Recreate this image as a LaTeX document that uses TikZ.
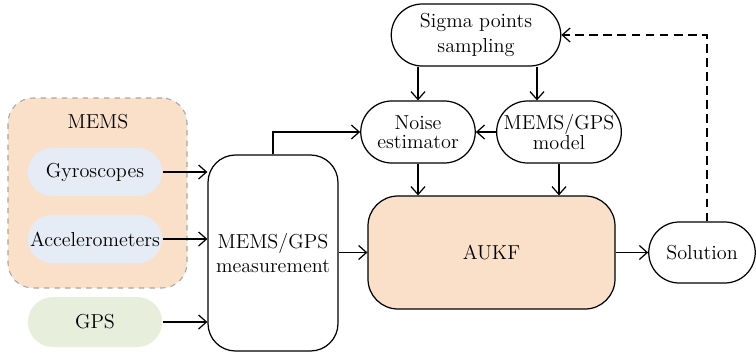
\documentclass[tikz,border=0pt]{standalone}
\usepackage[dvipsnames]{xcolor}
\usepackage{tikz}
\usetikzlibrary{shapes.misc,arrows.meta}

\definecolor{peach}{HTML}{FAE0C9}
\definecolor{paleblue}{HTML}{E5ECF6}
\definecolor{palegreen}{HTML}{E7EEDC}

\begin{document}
\begin{tikzpicture}[
    font=\fontsize{11.5}{14}\selectfont,
    line width=0.7pt,
    pill/.style={rounded rectangle, draw, align=center, inner sep=1pt},
    sensor/.style={rounded rectangle, fill=#1, minimum width=2.92cm, minimum height=0.96cm},
    bigbox/.style={rectangle, draw, align=center},
    flow/.style={-{Straight Barb[length=4.5pt,width=8pt]}}
  ]
        \useasboundingbox (0,0) rectangle (15.12,-7.1);

        % MEMS group
        \node [rectangle, rounded corners=0.5cm, fill=peach, draw=black!35, dashed,
          line width=0.6pt, minimum width=3.58cm, minimum height=3.8cm]
          (memsgroup) at (1.95,-3.86) {};
        \node (memslabel) at (1.96,-2.44) {MEMS};

        \node [sensor=paleblue] (gyro) at (1.90,-3.44) {Gyroscopes};
        \node [sensor=paleblue] (accel) at (1.90,-4.78) {Accelerometers};
        \node [sensor=palegreen, minimum height=1.0cm] (gps) at (1.90,-6.44) {GPS};

        \node [bigbox, rounded corners=0.55cm, minimum width=2.6cm, minimum height=3.92cm]
          (meas) at (5.46,-5.06) {MEMS/GPS\\measurement};

        \node [pill, minimum width=3.46cm, minimum height=1.24cm]
          (sigma) at (9.52,-0.70) {Sigma points\\[0.5pt]sampling};
        \node [pill, minimum width=2.36cm, minimum height=1.24cm]
          (noise) at (8.36,-2.64) {Noise\\[-3pt]estimator};
        \node [pill, minimum width=2.32cm, minimum height=1.24cm]
          (model) at (11.18,-2.64) {MEMS/GPS\\[-3pt]model};

        \node [bigbox, rounded corners=0.6cm, fill=peach, minimum width=4.94cm, minimum height=2.26cm]
          (aukf) at (9.83,-5.05) {AUKF};
        \node [pill, minimum width=2.2cm, minimum height=1.22cm]
          (solution) at (14.04,-5.05) {Solution};

        \draw [flow] (gyro.east) -- (gyro.east -| meas.west);
        \draw [flow] (accel.east) -- (accel.east -| meas.west);
        \draw [flow] (gps.east) -- (gps.east -| meas.west);
        \draw [flow] (aukf.west -| meas.east) -- (aukf.west);
        \draw [flow] (meas.north) |- (noise.west);

        \draw [flow] (noise |- sigma.south) -- (noise.north);
        \draw [flow] ([xshift=1.22cm]sigma.south) -- ([xshift=1.22cm]sigma.south |- model.north);
        \draw [flow] (model.west) -- (noise.east);
        \draw [flow] (noise.south) -- (noise.south |- aukf.north);
        \draw [flow] (model.south) -- (model.south |- aukf.north);

        \draw [flow] (aukf.east) -- (solution.west);
        \draw [flow, dashed, dash pattern=on 5pt off 3pt] ([xshift=0.1cm]solution.north) |- (sigma.east);
    \end{tikzpicture}
\end{document}
